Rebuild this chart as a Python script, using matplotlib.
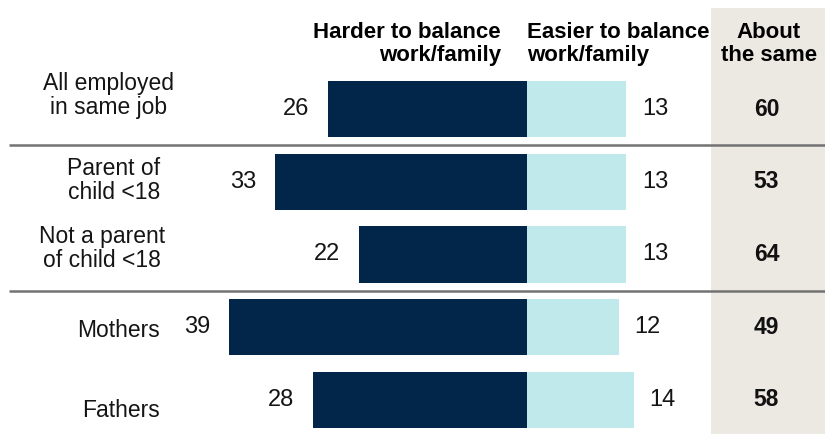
import matplotlib.pyplot as plt
from matplotlib import font_manager
from matplotlib.patches import Rectangle

# Share of workers saying the pandemic made balancing work and family ...
groups = ["All employed\nin same job", "Parent of\nchild <18", "Not a parent\nof child <18",
          "Mothers", "Fathers"]
harder = [26, 33, 22, 39, 28]
easier = [13, 13, 13, 12, 14]
same = [60, 53, 64, 49, 58]

headers = ["Harder to balance\nwork/family", "Easier to balance\nwork/family", "About\nthe same"]

NAVY = "#02254a"
CYAN = "#bfe9ea"
BOX = "#ece9e3"
RULE = "#727272"

names = {f.name for f in font_manager.fontManager.ttflist}
plt.rcParams['font.family'] = ['Liberation Sans' if 'Liberation Sans' in names else 'DejaVu Sans']

W, H = 825, 434
fig = plt.figure(figsize=(W / 100, H / 100), dpi=100)
ax = fig.add_axes([0, 0, 1, 1])

# pixel layout -> data scale: 0 sits at x=527px, 7.65px per point
x0, px_per = 527, 7.65
y0, row_h = 109, 72.75
ax.set_xlim(-x0 / px_per, (W - x0) / px_per)
ax.set_ylim((H - y0) / row_h, -y0 / row_h)
ax.axis('off')

rows = list(range(len(groups)))

# grey column behind "About the same"
box_left = (711 - x0) / px_per
ax.add_patch(Rectangle((box_left, 0), 100, 1 - 8 / H, transform=ax.get_xaxis_transform(),
                       facecolor=BOX, edgecolor='none', zorder=0))

ax.barh(rows, [-v for v in harder], height=0.77, color=NAVY, zorder=2)
ax.barh(rows, easier, height=0.77, color=CYAN, zorder=2)

# row label nudges (the two-line labels sit a little high)
label_dx = [-46.2, -47.9, -47.3, -48.0, -48.0]
label_dy = [-0.18, -0.02, -0.08, 0.05, 0.14]

for i in rows:
    ax.text(-harder[i] - 2.4, i, str(harder[i]), ha='right', va='center', fontsize=17,
            color='#151515')
    ax.text(easier[i] + 2.0, i, str(easier[i]), ha='left', va='center', fontsize=17,
            color='#151515')
    ax.text(31.3, i, str(same[i]), ha='center', va='center', fontsize=16.5,
            fontweight='bold', color='#111111')
    ax.text(label_dx[i], i + label_dy[i], groups[i], ha='right', va='center', fontsize=16.5,
            color='#151515', linespacing=1.05, multialignment='center')

# separators between the groups
for y in (0.5, 2.5):
    ax.plot([-x0 / px_per + 1.2, (W - x0) / px_per], [y, y], color=RULE, lw=1.8,
            solid_capstyle='butt', zorder=3)

hy = (44 - y0) / row_h
ax.text(-3.4, hy, headers[0], ha='right', va='center', fontsize=16, fontweight='bold',
        linespacing=1.15, multialignment='right')
ax.text(0.0, hy, headers[1], ha='left', va='center', fontsize=16, fontweight='bold',
        linespacing=1.15, multialignment='left')
ax.text(31.6, hy, headers[2], ha='center', va='center', fontsize=16, fontweight='bold',
        linespacing=1.15, multialignment='center')

fig.savefig("out.png", dpi=100)
